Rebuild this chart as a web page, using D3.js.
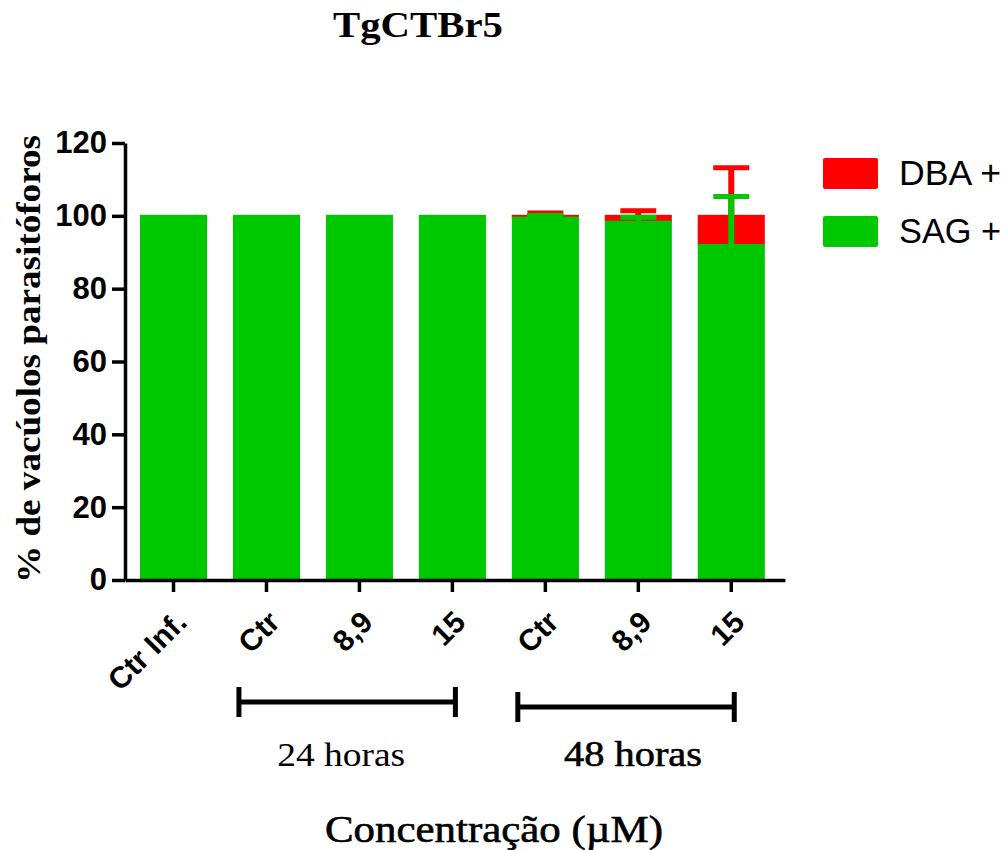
<!DOCTYPE html>
<html>
<head>
<meta charset="utf-8">
<script src="https://cdnjs.cloudflare.com/ajax/libs/d3/7.8.5/d3.min.js"></script>
<style>
  body { margin: 0; background: #ffffff; }
</style>
</head>
<body>
<svg id="canvas"></svg>
<script>
let categories = ["Ctr Inf.", "Ctr", "8,9", "15", "Ctr", "8,9", "15"];
let sagValues = [100, 100, 100, 100, 99.5, 98.4, 92];
let sagErrors = [0, 0, 0, 0, 0.6, 1.2, 13.3];
let dbaValues = [0, 0, 0, 0, 0.5, 1.6, 8];
let dbaErrors = [0, 0, 0, 0, 0.8, 1.4, 13.2];
let yTicks = [0, 20, 40, 60, 80, 100, 120];
let groupLabels = ["24 horas", "48 horas"];
let groupFrom = [1, 4];
let groupTo = [3, 6];
let legendLabels = ["DBA +", "SAG +"];

let width = 1006;
let height = 850;
let green = "#00c800";
let red = "#ff0000";

let canvas = d3.select("#canvas").attr("width", width).attr("height", height);

let xScale = d3
  .scaleBand()
  .domain(d3.range(categories.length))
  .range([125, 785])
  .paddingInner(0.3)
  .paddingOuter(0.2)
  .align(0.43);

let yScale = d3.scaleLinear().domain([0, 120]).range([580, 143]);

let bw = xScale.bandwidth();
let cx = (i) => xScale(i) + bw / 2;

// title
canvas
  .append("text")
  .attr("x", 418)
  .attr("y", 37)
  .attr("text-anchor", "middle")
  .attr("font-family", "Liberation Serif, Times New Roman, serif")
  .attr("font-weight", "bold")
  .attr("font-size", 35)
  .attr("textLength", 170)
  .attr("lengthAdjust", "spacingAndGlyphs")
  .text("TgCTBr5");

// stacked bars: DBA on top of SAG
let idx = d3.range(categories.length);

canvas
  .selectAll(".dba")
  .data(idx.filter((i) => dbaValues[i] > 0))
  .enter()
  .append("rect")
  .attr("class", "dba")
  .attr("x", (i) => xScale(i))
  .attr("width", bw)
  .attr("y", (i) => yScale(sagValues[i] + dbaValues[i]))
  .attr("height", (i) => yScale(sagValues[i]) - yScale(sagValues[i] + dbaValues[i]))
  .attr("fill", red)
  .attr("stroke", red)
  .attr("stroke-width", 2);

let drawErrors = (values, base, errors, color, cls) => {
  let items = idx.filter((i) => errors[i] > 0);
  canvas
    .selectAll("." + cls + "-stem")
    .data(items)
    .enter()
    .append("line")
    .attr("class", cls + "-stem")
    .attr("x1", (i) => cx(i))
    .attr("x2", (i) => cx(i))
    .attr("y1", (i) => yScale(base[i] + values[i]))
    .attr("y2", (i) => yScale(base[i] + values[i] + errors[i]))
    .attr("stroke", color)
    .attr("stroke-width", 6);
  canvas
    .selectAll("." + cls + "-cap")
    .data(items)
    .enter()
    .append("line")
    .attr("class", cls + "-cap")
    .attr("x1", (i) => cx(i) - 18)
    .attr("x2", (i) => cx(i) + 18)
    .attr("y1", (i) => yScale(base[i] + values[i] + errors[i]))
    .attr("y2", (i) => yScale(base[i] + values[i] + errors[i]))
    .attr("stroke", color)
    .attr("stroke-width", 5);
};

drawErrors(dbaValues, sagValues, dbaErrors, red, "dba-err");

canvas
  .selectAll(".sag")
  .data(idx)
  .enter()
  .append("rect")
  .attr("class", "sag")
  .attr("x", (i) => xScale(i))
  .attr("width", bw)
  .attr("y", (i) => yScale(sagValues[i]))
  .attr("height", (i) => yScale(0) - yScale(sagValues[i]))
  .attr("fill", green)
  .attr("stroke", green)
  .attr("stroke-width", 2);

drawErrors(sagValues, sagValues.map(() => 0), sagErrors, green, "sag-err");

// axes
let xAxis = d3
  .axisBottom(xScale)
  .tickSize(12)
  .tickSizeOuter(0)
  .tickFormat((i) => categories[i]);
let yAxis = d3
  .axisLeft(yScale)
  .tickValues(yTicks)
  .tickSize(13)
  .tickSizeOuter(0)
  .tickPadding(5);

let gx = canvas
  .append("g")
  .attr("id", "x-axis")
  .attr("transform", "translate(0, 580)")
  .call(xAxis);
gx.selectAll("path, line").attr("stroke", "#000").attr("stroke-width", 3.5);
gx.selectAll("text")
  .attr("x", 0)
  .attr("y", 0)
  .attr("dy", 0)
  .attr("text-anchor", "end")
  .attr("transform", "translate(15, 44) rotate(-45)")
  .attr("font-family", "Arial, Liberation Sans, sans-serif")
  .attr("font-weight", "bold")
  .attr("font-size", 30)
  .attr("fill", "#000");

let gy = canvas
  .append("g")
  .attr("id", "y-axis")
  .attr("transform", "translate(125, 0)")
  .call(yAxis);
gy.selectAll("path, line").attr("stroke", "#000").attr("stroke-width", 3.5);
gy.selectAll("text")
  .attr("font-family", "Arial, Liberation Sans, sans-serif")
  .attr("font-weight", "bold")
  .attr("font-size", 31)
  .attr("fill", "#000");

// y label
canvas
  .append("text")
  .attr("transform", "translate(40, 359) rotate(-90)")
  .attr("text-anchor", "middle")
  .attr("font-family", "Liberation Serif, Times New Roman, serif")
  .attr("font-weight", "bold")
  .attr("font-size", 33)
  .attr("textLength", 448)
  .attr("lengthAdjust", "spacingAndGlyphs")
  .text("% de vacúolos parasitóforos");

// time brackets
groupLabels.forEach((label, g) => {
  let x1 = xScale(groupFrom[g]) + 5;
  let x2 = cx(groupTo[g]) + 3;
  let yb = 702 + g * 5;
  let br = canvas.append("g").attr("stroke", "#000").attr("stroke-width", 5);
  br.append("line").attr("x1", x1).attr("x2", x2).attr("y1", yb).attr("y2", yb);
  br.append("line").attr("x1", x1).attr("x2", x1).attr("y1", yb - 15).attr("y2", yb + 15);
  br.append("line").attr("x1", x2).attr("x2", x2).attr("y1", yb - 15).attr("y2", yb + 15);
  canvas
    .append("text")
    .attr("x", (x1 + x2) / 2 + (g === 0 ? -6 : 7))
    .attr("y", 766)
    .attr("text-anchor", "middle")
    .attr("font-family", "Liberation Serif, Times New Roman, serif")
    .attr("font-size", g === 0 ? 34 : 36)
    .attr("stroke", g === 0 ? "none" : "#000")
    .attr("stroke-width", 0.6)
    .attr("textLength", g === 0 ? 128 : 138)
    .attr("lengthAdjust", "spacingAndGlyphs")
    .text(label);
});

// x label
canvas
  .append("text")
  .attr("x", 494)
  .attr("y", 842)
  .attr("text-anchor", "middle")
  .attr("font-family", "Liberation Serif, Times New Roman, serif")
  .attr("font-size", 37)
  .attr("stroke", "#000")
  .attr("stroke-width", 0.6)
  .attr("textLength", 338)
  .attr("lengthAdjust", "spacingAndGlyphs")
  .text("Concentração (µM)");

// legend
let legendColors = [red, green];
let legend = canvas
  .selectAll(".legend")
  .data(legendLabels)
  .enter()
  .append("g")
  .attr("class", "legend")
  .attr("transform", (d, i) => "translate(823, " + (158 + i * 58) + ")");
legend
  .append("rect")
  .attr("width", 55)
  .attr("height", 31)
  .attr("rx", 2)
  .attr("fill", (d, i) => legendColors[i]);
legend
  .append("text")
  .attr("x", 76)
  .attr("y", 27)
  .attr("font-family", "Arial, Liberation Sans, sans-serif")
  .attr("font-size", 35)
  .attr("textLength", 102)
  .attr("lengthAdjust", "spacingAndGlyphs")
  .text((d) => d);
</script>
</body>
</html>
